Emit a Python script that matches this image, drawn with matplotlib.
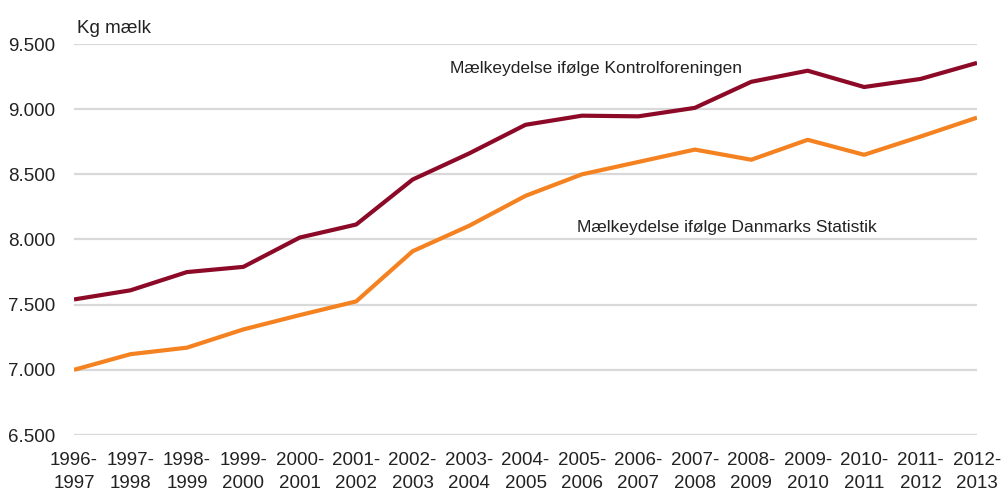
import matplotlib
matplotlib.use("Agg")
import matplotlib.pyplot as plt
from matplotlib.ticker import FuncFormatter

plt.rcParams['font.family'] = ['Liberation Sans', 'DejaVu Sans']

seasons = ["1996-\n1997", "1997-\n1998", "1998-\n1999", "1999-\n2000", "2000-\n2001",
           "2001-\n2002", "2002-\n2003", "2003-\n2004", "2004-\n2005", "2005-\n2006",
           "2006-\n2007", "2007-\n2008", "2008-\n2009", "2009-\n2010", "2010-\n2011",
           "2011-\n2012", "2012-\n2013"]
kontrol = [7540, 7610, 7750, 7790, 8015, 8115, 8460, 8660, 8880, 8950,
           8945, 9010, 9210, 9295, 9170, 9232, 9355]
danmarks_statistik = [7000, 7120, 7170, 7310, 7420, 7525, 7910, 8105, 8335, 8500,
                      8595, 8690, 8612, 8765, 8650, 8790, 8935]
yticks = [6500, 7000, 7500, 8000, 8500, 9000, 9500]

fig = plt.figure(figsize=(10.01, 4.95), dpi=100)
ax = fig.add_axes([74 / 1001, 60 / 495, 903 / 1001, 391 / 495])

x = list(range(len(seasons)))
for y in yticks:
    ax.axhline(y, color='#d9d9d9', linewidth=1.6, zorder=1)

ax.plot(x, kontrol, color='#8c0a28', linewidth=3, zorder=3, solid_capstyle='butt')
ax.plot(x, danmarks_statistik, color='#f58220', linewidth=3, zorder=3, solid_capstyle='butt')

ax.set_xlim(0, len(seasons) - 1)
ax.set_ylim(6500, 9500)
ax.set_yticks(yticks)
ax.yaxis.set_major_formatter(FuncFormatter(lambda v, p: f"{int(v):,}".replace(",", ".")))
ax.set_xticks(x)
ax.set_xticklabels(seasons, linespacing=1.45)
ax.tick_params(length=0, labelsize=13.5, colors='#222222')
ax.tick_params(axis='x', pad=12)
ax.tick_params(axis='y', pad=13.5)
for s in ax.spines.values():
    s.set_visible(False)

ax.text(0.05, 9584, "Kg mælk", fontsize=13.5, color='#222222', va='baseline', ha='left',
        clip_on=False)
ax.text(6.66, 9277, "Mælkeydelse ifølge Kontrolforeningen", fontsize=12.5,
        color='#222222', va='baseline', ha='left')
ax.text(8.91, 8057, "Mælkeydelse ifølge Danmarks Statistik", fontsize=12.5,
        color='#222222', va='baseline', ha='left')

fig.savefig("out.png", dpi=100)
